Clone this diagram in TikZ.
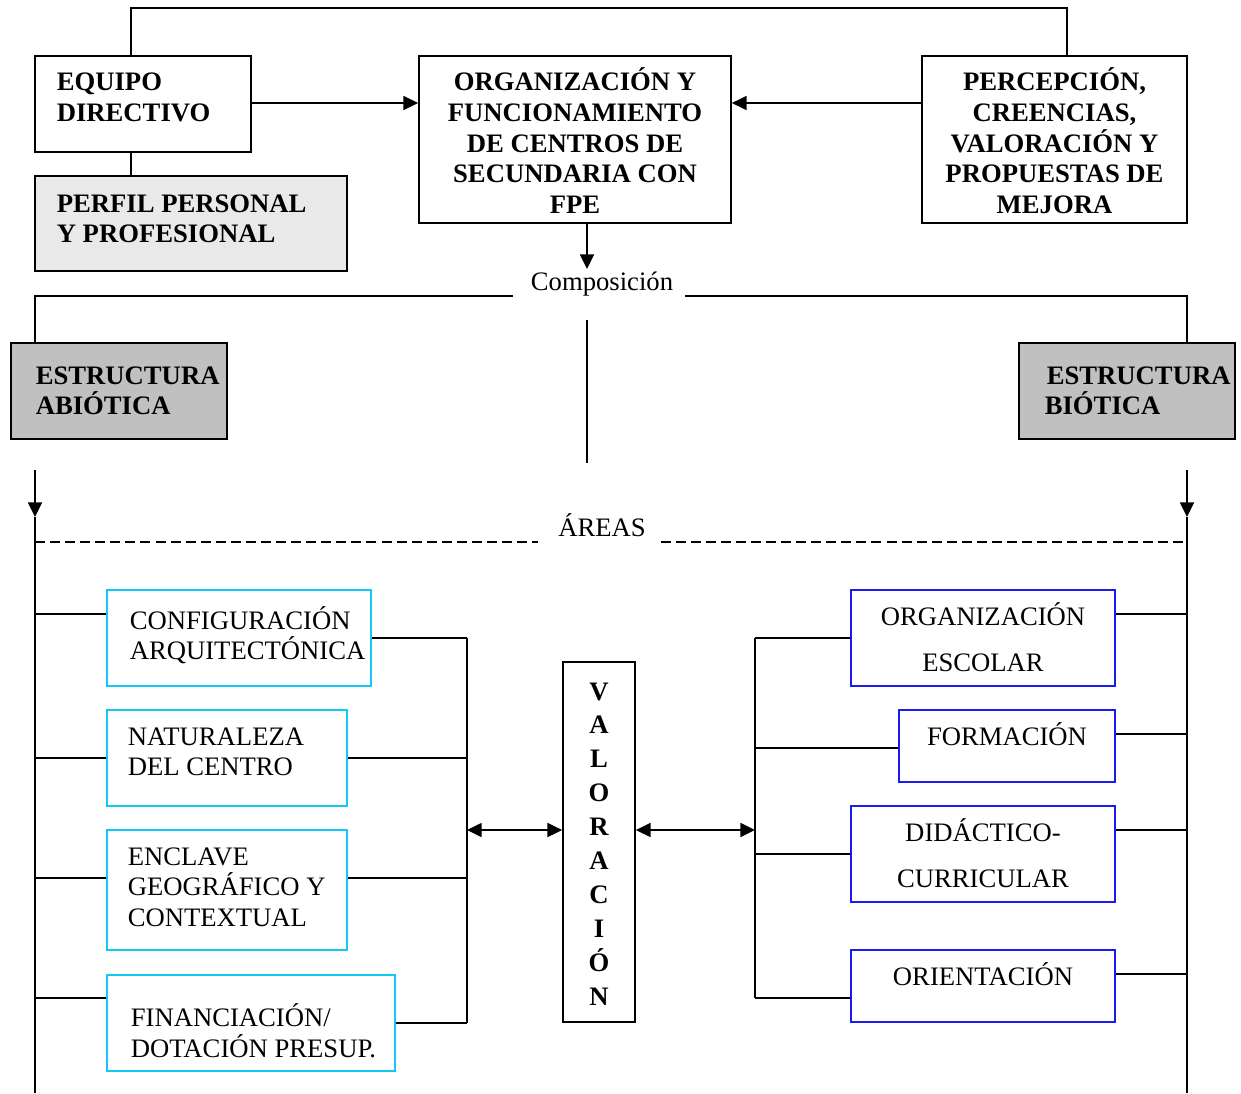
\documentclass[tikz,border=0pt]{standalone}
\usepackage{fontspec}
\setmainfont{Liberation Serif}
\usetikzlibrary{arrows.meta}
\definecolor{cyanb}{RGB}{20,200,245}
\definecolor{blueb}{RGB}{25,25,240}
\definecolor{grayA}{RGB}{233,233,233}
\definecolor{grayB}{RGB}{192,192,192}
\newcommand\rbox[6][]{\node[bx,#1,minimum width={(#5-#3)*0.75pt},minimum height={(#6-#4)*0.75pt}] (#2) at ({(#3+#5)/2},{(#4+#6)/2}) {};}
\begin{document}
\begin{tikzpicture}[x=0.75pt,y=-0.75pt,line width=1.2pt,
  bx/.style={draw=black,line width=1.3pt,inner sep=0pt},
  cbx/.style={draw=cyanb},
  bbx/.style={draw=blueb},
  tb/.style={font=\fontsize{20}{23}\selectfont\bfseries,inner sep=0pt},
  tr/.style={font=\fontsize{20}{23}\selectfont,inner sep=0pt},
  arr/.style={-{Triangle[length=11pt,width=10.5pt]}},
  darr/.style={{Triangle[length=11pt,width=10.5pt]}-{Triangle[length=11pt,width=10.5pt]}},
  dsh/.style={line width=0.8pt,dash pattern=on 7.5pt off 3.8pt}]
\useasboundingbox (0,0) rectangle (1241,1093);
% coordinates
\coordinate (tl) at (131,8); \coordinate (tr) at (1067,8);
\coordinate (hl) at (35,296); \coordinate (hr) at (1187,296);
\coordinate (cdn) at (587,269);
\coordinate (vtop) at (587,320); \coordinate (vbot) at (587,463);
\coordinate (la0) at (35,470); \coordinate (la1) at (35,517); \coordinate (lend) at (35,1093);
\coordinate (ra0) at (1187,470); \coordinate (ra1) at (1187,517); \coordinate (rend) at (1187,1093);
\coordinate (LB) at (35,0); \coordinate (LM) at (467,830);
\coordinate (RM) at (755,830); \coordinate (RB) at (1187,0);
\coordinate (dy) at (0,542);
% top boxes
\rbox{eq}{35}{56}{251}{152}
\rbox[fill=grayA]{perf}{35}{176}{347}{271}
\rbox{org}{419}{56}{731}{223}
\rbox{perc}{922}{56}{1187}{223}
\node[tb,anchor=base west] (eq1) at (56,90) {EQUIPO};
\node[tb,anchor=base west] (eq2) at (56,121) {DIRECTIVO};
\node[tb,anchor=base west] (pf1) at (56,212) {PERFIL PERSONAL};
\node[tb,anchor=base west] (pf2) at (56,242) {Y PROFESIONAL};
\begin{scope}
\clip (419,56) rectangle (731,216);
\node[tb,anchor=base] (o1) at (575,90) {ORGANIZACIÓN Y};
\node[tb,anchor=base] (o2) at (575,121) {FUNCIONAMIENTO};
\node[tb,anchor=base] (o3) at (575,152) {DE CENTROS DE};
\node[tb,anchor=base] (o4) at (575,182) {SECUNDARIA CON};
\node[tb,anchor=base] (o5) at (575,213) {FPE};
\end{scope}
\begin{scope}
\clip (922,56) rectangle (1187,214);
\node[tb,anchor=base] (p1) at (1054.5,90) {PERCEPCIÓN,};
\node[tb,anchor=base] (p2) at (1054.5,121) {CREENCIAS,};
\node[tb,anchor=base] (p3) at (1054.5,152) {VALORACIÓN Y};
\node[tb,anchor=base] (p4) at (1054.5,182) {PROPUESTAS DE};
\node[tb,anchor=base] (p5) at (1054.5,213) {MEJORA};
\end{scope}
\draw (eq.north -| tl) -- (tl) -- (tr) -- (perc.north -| tr);
\draw (eq.south -| tl) -- (perf.north -| tl);
\draw[arr] (eq.east) ++(0,-1) coordinate (a1) -- (a1 -| org.west);
\draw[arr] (perc.west |- a1) -- (a1 -| org.east);
\draw[arr] (org.south -| cdn) -- (cdn);
\node[tr,anchor=base] (comp) at (602,290) {Composición};
% structure boxes
\rbox[fill=grayB]{abio}{11}{343}{227}{439}
\rbox[fill=grayB]{bio}{1019}{343}{1235}{439}
\node[tb,anchor=base west] (ab1) at (35,384) {ESTRUCTURA};
\node[tb,anchor=base west] (ab2) at (35,414) {ABIÓTICA};
\node[tb,anchor=base west] (bi1) at (1046,384) {ESTRUCTURA};
\node[tb,anchor=base west] (bi2) at (1044,414) {BIÓTICA};
\path (comp.west |- hl) ++(-17,0) coordinate (hl2);
\path (comp.east |- hr) ++(11,0) coordinate (hr2);
\draw (hl2) -- (hl) -- (abio.north -| hl);
\draw (hr2) -- (hr) -- (bio.north -| hr);
\draw (vtop) -- (vbot);
\draw[arr] (la0) -- (la1); \draw (la1) -- (lend);
\draw[arr] (ra0) -- (ra1); \draw (ra1) -- (rend);
% areas
\node[tr,anchor=base] (areas) at (602,536) {ÁREAS};
\path (areas.west |- dy) ++(-19,0) coordinate (dl2);
\path (areas.east |- dy) ++(14,0) coordinate (dr2);
\draw[dsh] (dy -| LB) -- (dl2);
\draw[dsh] (dr2) -- (dy -| RB);
% left boxes
\rbox[cbx]{cfg}{107}{590}{371}{686}
\rbox[cbx]{nat}{107}{710}{347}{806}
\rbox[cbx]{enc}{107}{830}{347}{950}
\rbox[cbx]{fin}{107}{975}{395}{1071}
\node[tr,anchor=base west] (cf1) at (129,629) {CONFIGURACIÓN};
\node[tr,anchor=base west] (cf2) at (129,659) {ARQUITECTÓNICA};
\node[tr,anchor=base west] (na1) at (127,745) {NATURALEZA};
\node[tr,anchor=base west] (na2) at (127,775) {DEL CENTRO};
\node[tr,anchor=base west] (en1) at (127,865) {ENCLAVE};
\node[tr,anchor=base west] (en2) at (127,895) {GEOGRÁFICO Y};
\node[tr,anchor=base west] (en3) at (127,926) {CONTEXTUAL};
\node[tr,anchor=base west] (fi1) at (130,1026) {FINANCIACIÓN/};
\node[tr,anchor=base west] (fi2) at (130,1057) {DOTACIÓN PRESUP.};
\draw (cfg.west) ++(0,-24) coordinate (c1) -- (c1 -| LB);
\draw (cfg.east) -- (cfg.east -| LM);
\draw (nat.west) -- (nat.west -| LB);
\draw (nat.east) -- (nat.east -| LM);
\draw (enc.west) ++(0,-12) coordinate (c3) -- (c3 -| LB);
\draw (enc.east) ++(0,-12) coordinate (c3r) -- (c3r -| LM);
\draw (fin.west) ++(0,-25) coordinate (c4) -- (c4 -| LB);
\draw (fin.east) -- (fin.east -| LM);
\draw (cfg.east -| LM) -- (fin.east -| LM);
% valoracion
\rbox{val}{563}{662}{635}{1022}
\foreach \l [count=\i] in {V,A,L,O,R,A,C,I,Ó,N}
  \node[tb,anchor=base] (v\i) at (599,{700+(\i-1)*33.9}) {\l};
\draw[darr] (LM) -- (val.west |- LM);
\draw[darr] (val.east |- RM) -- (RM);
% right boxes
\rbox[bbx]{oe}{851}{590}{1115}{686}
\rbox[bbx]{form}{899}{710}{1115}{782}
\rbox[bbx]{did}{851}{806}{1115}{902}
\rbox[bbx]{ori}{851}{950}{1115}{1022}
\node[tr,anchor=base] (oe1) at (983,625) {ORGANIZACIÓN};
\node[tr,anchor=base] (oe2) at (983,671) {ESCOLAR};
\node[tr,anchor=base] (fo1) at (1007,745) {FORMACIÓN};
\node[tr,anchor=base] (di1) at (983,841) {DIDÁCTICO-};
\node[tr,anchor=base] (di2) at (983,887) {CURRICULAR};
\node[tr,anchor=base] (or1) at (983,985) {ORIENTACIÓN};
\draw (oe.west) -- (oe.west -| RM);
\draw (oe.east) ++(0,-24) coordinate (d1) -- (d1 -| RB);
\draw (form.west) ++(0,2) coordinate (d2l) -- (d2l -| RM);
\draw (form.east) ++(0,-12) coordinate (d2) -- (d2 -| RB);
\draw (did.west) -- (did.west -| RM);
\draw (did.east) ++(0,-24) coordinate (d3) -- (d3 -| RB);
\draw (ori.west) ++(0,12) coordinate (d4l) -- (d4l -| RM);
\draw (ori.east) ++(0,-12) coordinate (d4) -- (d4 -| RB);
\draw (oe.west -| RM) -- (d4l -| RM);
\end{tikzpicture}
\end{document}
